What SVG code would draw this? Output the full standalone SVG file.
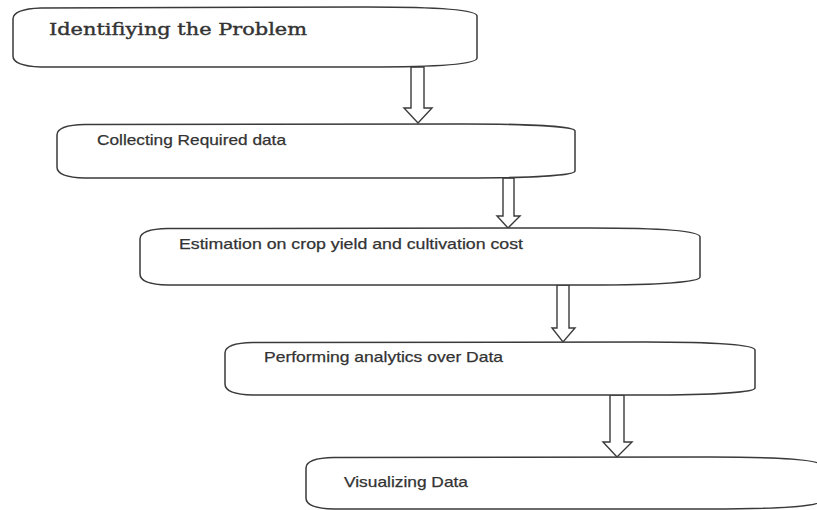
<svg xmlns="http://www.w3.org/2000/svg" width="817" height="510" viewBox="0 0 817 510">
<style>
.box{fill:#fff;stroke:#3a3a3a;stroke-width:1.5}
.arr{fill:#fff;stroke:#3a3a3a;stroke-width:1.4;stroke-linejoin:miter}
.t{font-family:"Liberation Sans",Arial,sans-serif;font-size:15px;fill:#333;stroke:#333;stroke-width:0.25}
.ts{font-family:"DejaVu Serif","Liberation Serif",serif;font-size:17px;fill:#333;stroke:#333;stroke-width:0.4}
</style>
<rect width="817" height="510" fill="#fff"/>
<g id="connectors">
<polygon class="arr" points="411,67 424,67 424,108 432,108 418,123 404,108 411,108"/>
<polygon class="arr" points="503,178 514,178 514,216 520,216 508,228 497,216 503,216"/>
<polygon class="arr" points="557,285 569,285 569,328 575,328 563,342 552,328 557,328"/>
<polygon class="arr" points="610,395 624,395 624,442 632,442 617,457 603,442 610,442"/>
</g>
<g id="n1">
<path class="box" d="M13,19 Q13,9 41,8 L367,7 C437,7 477,10 477,16 L477,58 C477,64 437,67 367,67 L41,67 Q13,66 13,56 Z"/>
<text class="ts" x="49" y="35" textLength="258" lengthAdjust="spacingAndGlyphs">Identifiying the Problem</text>
</g>
<g id="n2">
<path class="box" d="M57,135 Q57,125 85,124.5 L465,124 C535,124 575,127 575,131 L575,171 C575,175 535,178 465,178 L85,178 Q57,177.5 57,167 Z"/>
<text class="t" x="97" y="145" textLength="189" lengthAdjust="spacingAndGlyphs">Collecting Required data</text>
</g>
<g id="n3">
<path class="box" d="M140,239 Q140,229 168,228.5 L590,228 C660,228 700,231 700,237 L700,277 C700,282 660,285 590,285 L168,285 Q140,284.5 140,274 Z"/>
<text class="t" x="179" y="249" textLength="344" lengthAdjust="spacingAndGlyphs">Estimation on crop yield and cultivation cost</text>
</g>
<g id="n4">
<path class="box" d="M225,353 Q225,343 253,342.5 L645,342 C715,342 755,345 755,350 L755,388 C755,392 715,395 645,395 L253,395 Q225,394.5 225,384 Z"/>
<text class="t" x="264" y="362" textLength="239" lengthAdjust="spacingAndGlyphs">Performing analytics over Data</text>
</g>
<g id="n5">
<path class="box" d="M306,468 Q306,458 334,457.5 L710,457 C780,457 820,460 820,465 L820,501 C820,506 780,509 710,509 L334,509 Q306,508.5 306,498 Z"/>
<text class="t" x="344" y="487" textLength="124" lengthAdjust="spacingAndGlyphs">Visualizing Data</text>
</g>
</svg>
